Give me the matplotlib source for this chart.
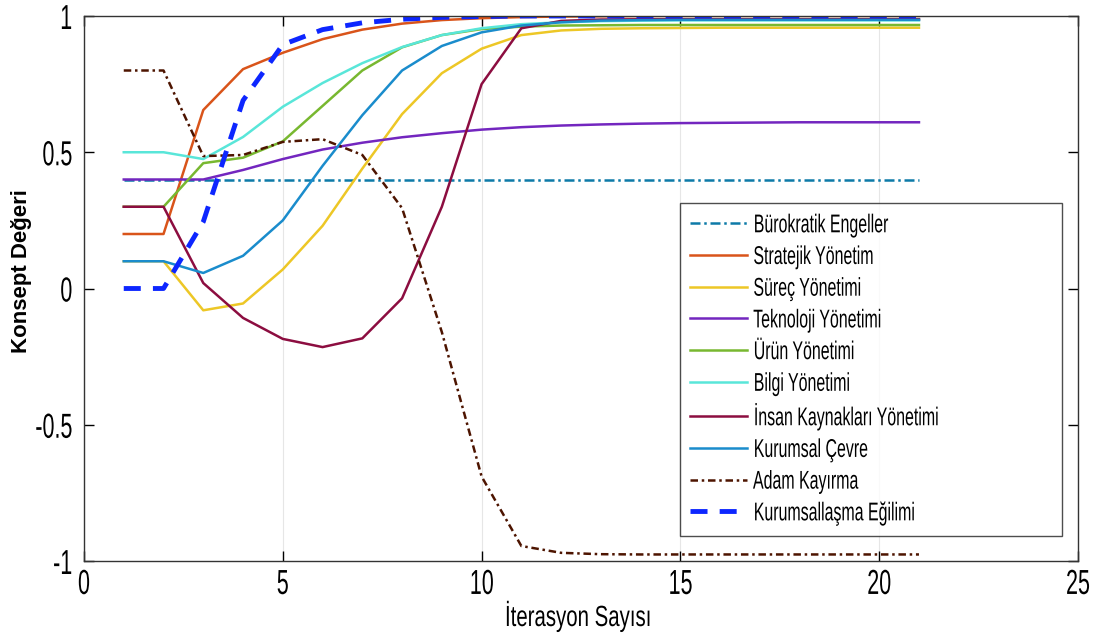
import matplotlib
matplotlib.use("Agg")
import matplotlib.pyplot as plt
from matplotlib import patheffects
from matplotlib.transforms import Affine2D

# ======================
# Donnees des concepts
# ======================
iterasyon = list(range(1, 22))

burokratik = [0.4] * 21
stratejik = [0.2, 0.2, 0.655, 0.805, 0.865, 0.915, 0.95, 0.972, 0.985, 0.992, 0.996,
             0.998, 0.999, 1.0, 1.0, 1.0, 1.0, 1.0, 1.0, 1.0, 1.0]
surec = [0.1, 0.1, -0.08, -0.055, 0.07, 0.23, 0.44, 0.64, 0.79, 0.88, 0.93,
         0.947, 0.953, 0.955, 0.956, 0.957, 0.957, 0.957, 0.957, 0.957, 0.957]
teknoloji = [0.4, 0.4, 0.4, 0.435, 0.475, 0.51, 0.535, 0.555, 0.57, 0.583, 0.592,
             0.598, 0.602, 0.605, 0.607, 0.608, 0.609, 0.61, 0.61, 0.61, 0.61]
urun = [0.3, 0.3, 0.46, 0.48, 0.54, 0.67, 0.8, 0.885, 0.93, 0.952, 0.961,
        0.965, 0.966, 0.967, 0.967, 0.967, 0.967, 0.967, 0.967, 0.967, 0.967]
bilgi = [0.5, 0.5, 0.475, 0.556, 0.667, 0.754, 0.827, 0.886, 0.93, 0.955, 0.97,
         0.977, 0.981, 0.983, 0.984, 0.984, 0.984, 0.984, 0.984, 0.984, 0.984]
insan = [0.3, 0.3, 0.02, -0.108, -0.185, -0.215, -0.183, -0.036, 0.3, 0.75, 0.955,
         0.982, 0.987, 0.988, 0.988, 0.988, 0.988, 0.988, 0.988, 0.988, 0.988]
kurumsal = [0.1, 0.1, 0.057, 0.12, 0.25, 0.45, 0.636, 0.8, 0.89, 0.94, 0.965,
            0.977, 0.983, 0.985, 0.986, 0.986, 0.986, 0.986, 0.986, 0.986, 0.986]
adam = [0.8, 0.8, 0.486, 0.49, 0.538, 0.548, 0.49, 0.295, -0.16, -0.69, -0.945,
        -0.97, -0.975, -0.976, -0.976, -0.976, -0.976, -0.976, -0.976, -0.976, -0.976]
kurumsallasma = [0.0, 0.0, 0.245, 0.69, 0.895, 0.95, 0.975, 0.988, 0.995, 0.998, 1.0,
                 1.0, 1.0, 1.0, 1.0, 1.0, 1.0, 1.0, 1.0, 1.0, 1.0]

etiketler = ["Bürokratik Engeller", "Stratejik Yönetim", "Süreç Yönetimi",
             "Teknoloji Yönetimi", "Ürün Yönetimi", "Bilgi Yönetimi",
             "İnsan Kaynakları Yönetimi", "Kurumsal Çevre", "Adam Kayırma",
             "Kurumsallaşma Eğilimi"]

x_ticks = [0, 5, 10, 15, 20, 25]
y_ticks = [-1, -0.5, 0, 0.5, 1]
y_tick_labels = ["-1", "-0.5", "0", "0.5", "1"]


class Squeeze(patheffects.AbstractPathEffect):
    """Compresse horizontalement le texte (police etroite)."""

    def __init__(self, sx=0.68, anchor="left"):
        super().__init__()
        self.sx = sx
        self.anchor = anchor

    def draw_path(self, renderer, gc, tpath, affine, rgbFace=None):
        ext = tpath.get_extents(affine)
        if self.anchor == "left":
            x0 = ext.x0
        elif self.anchor == "right":
            x0 = ext.x1
        else:
            x0 = 0.5 * (ext.x0 + ext.x1)
        aff = affine + Affine2D().translate(-x0, 0).scale(self.sx, 1).translate(x0, 0)
        renderer.draw_path(gc, tpath, aff, rgbFace)


plt.rcParams["font.family"] = ["Liberation Sans", "DejaVu Sans"]

fig = plt.figure(figsize=(11.04, 6.37), dpi=100)
ax = fig.add_axes([84 / 1104, 1 - 561 / 637, (1078 - 84) / 1104, (561 - 16) / 637])

series = [
    (burokratik, (0.05, 0.48, 0.66), (0, (4, 1.5, 1, 1.5)), 1.8),
    (stratejik, (0.85, 0.33, 0.10), "-", 1.8),
    (surec, (0.93, 0.78, 0.15), "-", 1.8),
    (teknoloji, (0.45, 0.15, 0.75), "-", 1.8),
    (urun, (0.47, 0.72, 0.19), "-", 1.8),
    (bilgi, (0.35, 0.9, 0.85), "-", 1.8),
    (insan, (0.55, 0.05, 0.25), "-", 1.8),
    (kurumsal, (0.1, 0.55, 0.8), "-", 1.8),
    (adam, (0.3, 0.08, 0.0), (0, (3, 1.5, 1, 1.5)), 1.8),
    (kurumsallasma, (0.05, 0.15, 1.0), (0, (3.5, 2.5)), 3.5),
]

for (vals, color, ls, lw), lab in zip(series, etiketler):
    ax.plot(iterasyon, vals, color=color, linestyle=ls, linewidth=lw, label=lab)

ax.set_xlim(0, 25)
ax.set_ylim(-1, 1)
ax.set_xticks(x_ticks)
ax.set_yticks(y_ticks)
ax.set_yticklabels(y_tick_labels)
ax.tick_params(direction="in", length=7, width=1, labelsize=25, top=True, right=True)
ax.tick_params(axis="y", pad=8)
ax.tick_params(axis="x", pad=5)
ax.xaxis.grid(True, color="#e6e6e6", linewidth=0.8)
for s in ax.spines.values():
    s.set_linewidth(1.0)
    s.set_color("#333333")

for t in ax.get_xticklabels():
    t.set_path_effects([Squeeze(0.62, "center")])
for t in ax.get_yticklabels():
    t.set_path_effects([Squeeze(0.62, "right")])

fig.text(22 / 1104, 1 - 271 / 637, "Konsept Değeri", fontsize=16, fontweight="bold",
         rotation=90, ha="center", va="center")
fig.text(578 / 1104, 1 - 616 / 637, "İterasyon Sayısı", fontsize=21,
         ha="center", va="center", path_effects=[Squeeze(0.7, "center")])

leg = ax.legend(loc="upper left", bbox_to_anchor=(680 / 1104, 1 - 203 / 637),
                bbox_transform=fig.transFigure, borderaxespad=0, fontsize=18.5,
                handlelength=2.2, handletextpad=0.24, labelspacing=0.3,
                frameon=True, fancybox=False, borderpad=0.4)
leg.get_frame().set_edgecolor("#222222")
leg.get_frame().set_linewidth(1.0)
for t in leg.get_texts():
    t.set_path_effects([Squeeze(0.62, "left")])

fig.savefig("out.png", dpi=100)
